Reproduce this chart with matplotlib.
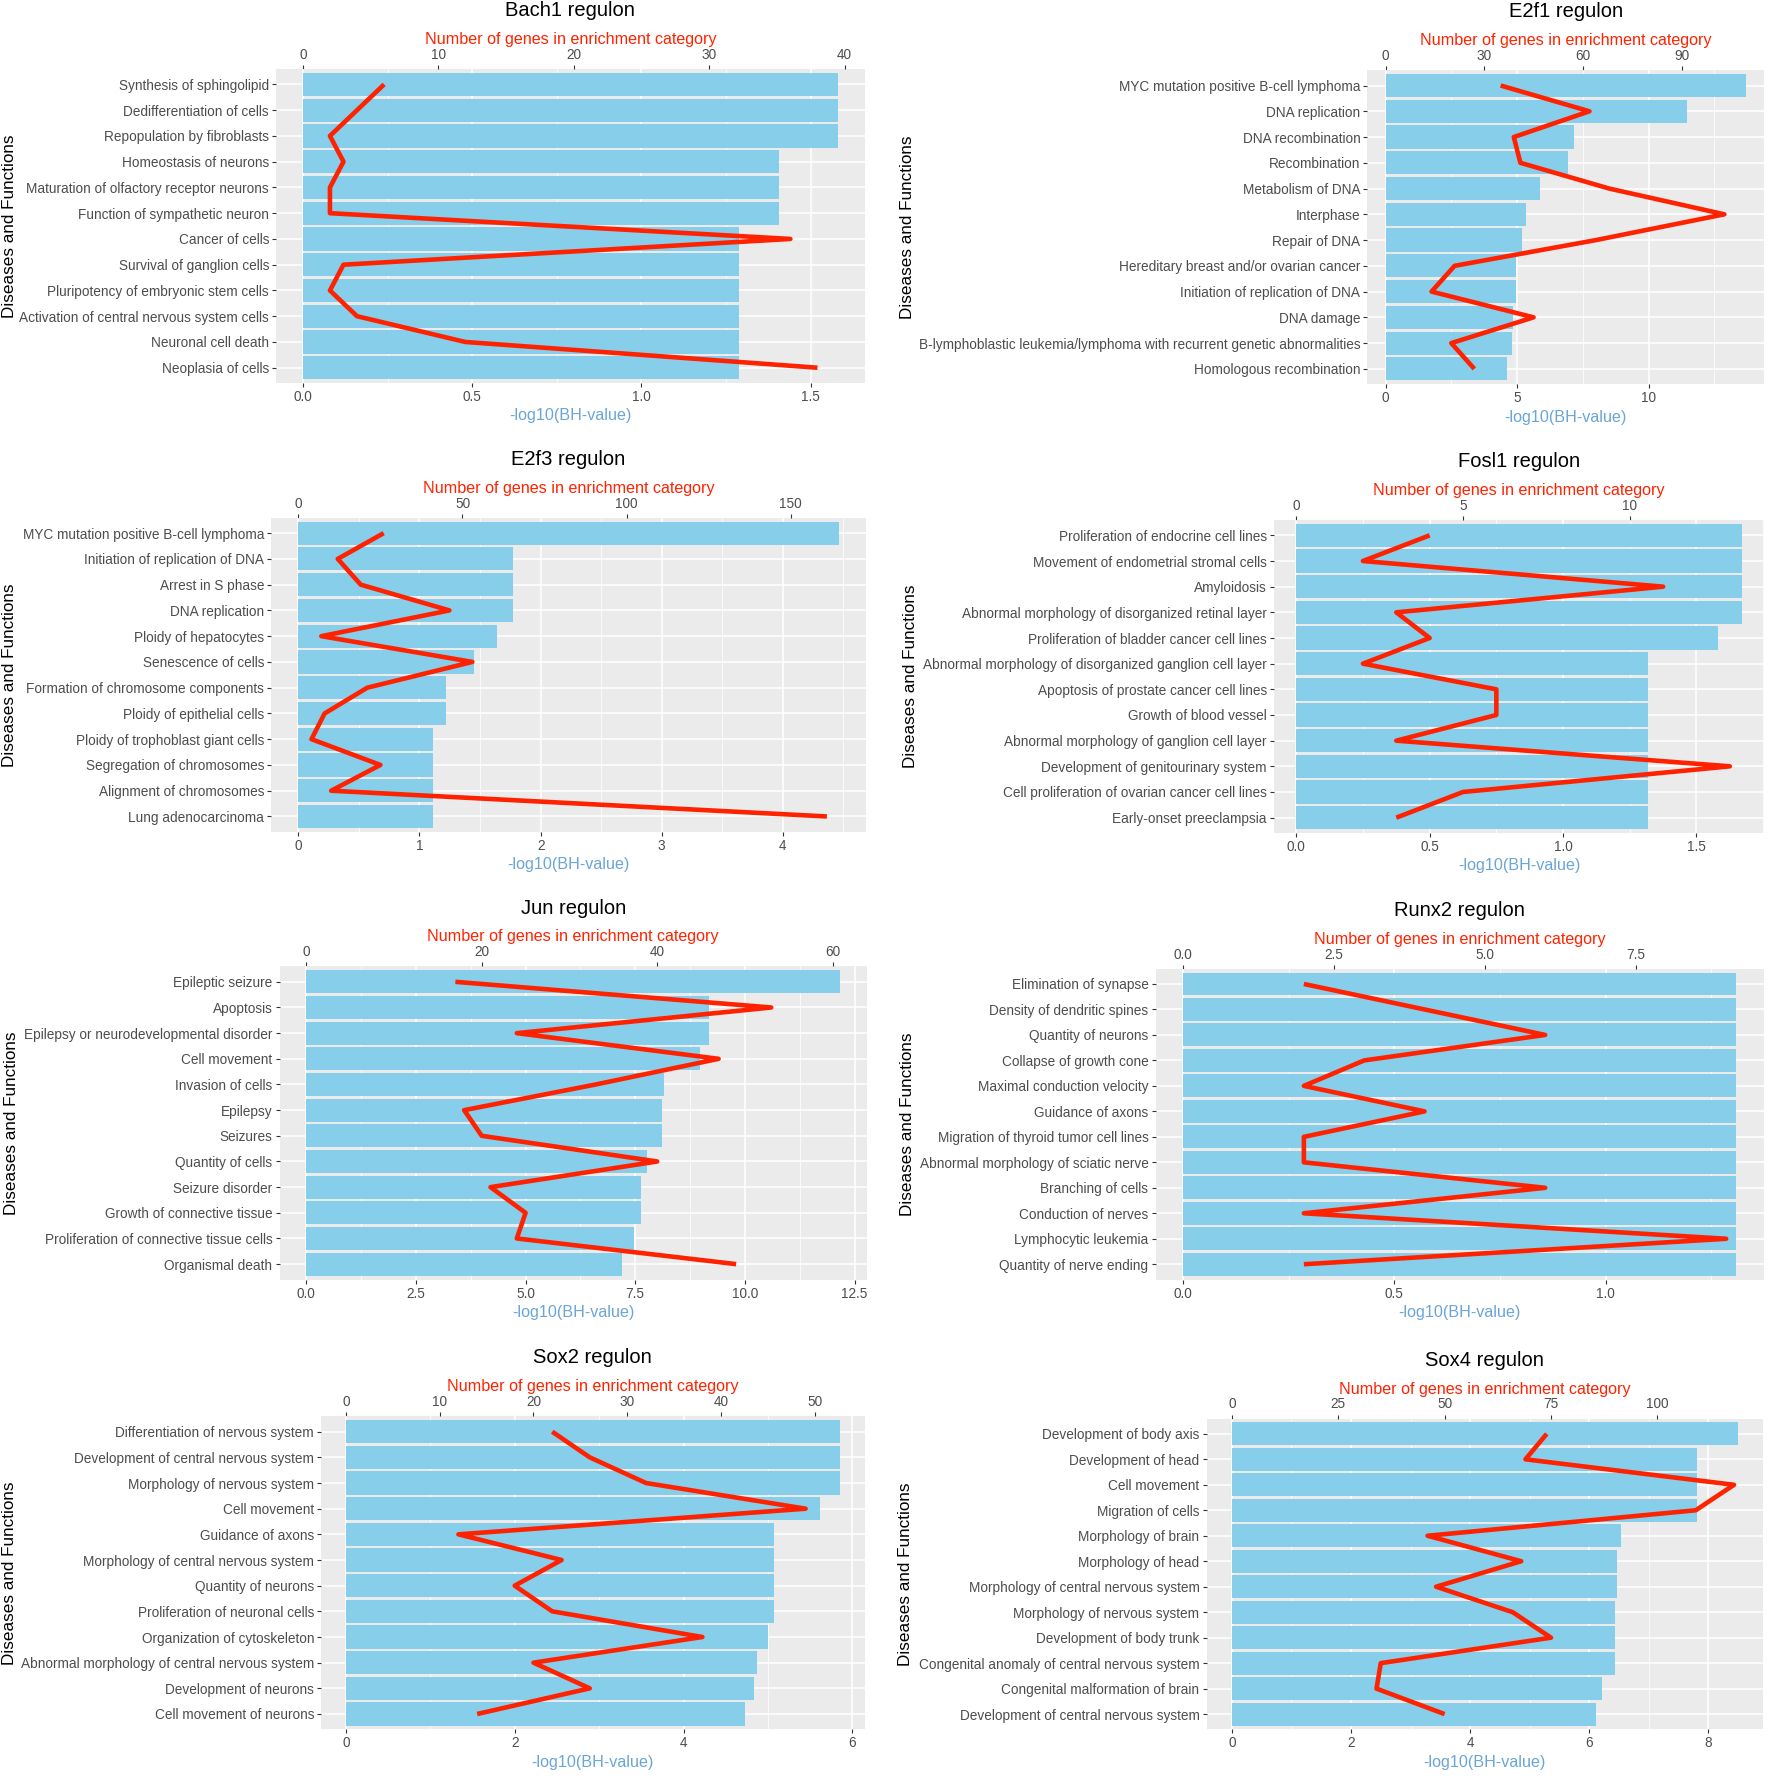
import numpy as np
import matplotlib
matplotlib.use("Agg")
import matplotlib.pyplot as plt

plt.rcParams['font.family'] = ['Liberation Sans', 'DejaVu Sans']

# ---------------- data ----------------
bach1_terms = ["Synthesis of sphingolipid", "Dedifferentiation of cells", "Repopulation by fibroblasts",
               "Homeostasis of neurons", "Maturation of olfactory receptor neurons", "Function of sympathetic neuron",
               "Cancer of cells", "Survival of ganglion cells", "Pluripotency of embryonic stem cells",
               "Activation of central nervous system cells", "Neuronal cell death", "Neoplasia of cells"]
bach1_bh = [1.58, 1.58, 1.58, 1.405, 1.405, 1.405, 1.288, 1.288, 1.288, 1.288, 1.288, 1.288]
bach1_genes = [6, 4, 2, 3, 2, 2, 36, 3, 2, 4, 12, 38]
bach1_scale = 25
bach1_bticks = [0.0, 0.5, 1.0, 1.5]
bach1_blabels = ["0.0", "0.5", "1.0", "1.5"]
bach1_tticks = [0, 10, 20, 30, 40]
bach1_tlabels = ["0", "10", "20", "30", "40"]

e2f1_terms = ["MYC mutation positive B-cell lymphoma", "DNA replication", "DNA recombination", "Recombination",
              "Metabolism of DNA", "Interphase", "Repair of DNA", "Hereditary breast and/or ovarian cancer",
              "Initiation of replication of DNA", "DNA damage",
              "B-lymphoblastic leukemia/lymphoma with recurrent genetic abnormalities", "Homologous recombination"]
e2f1_bh = [13.7, 11.45, 7.15, 6.92, 5.88, 5.32, 5.19, 4.94, 4.94, 4.83, 4.82, 4.6]
e2f1_genes = [35, 62, 39, 41, 68, 103, 64, 21, 14, 45, 20, 27]
e2f1_scale = 8
e2f1_bticks = [0, 5, 10]
e2f1_blabels = ["0", "5", "10"]
e2f1_tticks = [0, 30, 60, 90]
e2f1_tlabels = ["0", "30", "60", "90"]

e2f3_terms = ["MYC mutation positive B-cell lymphoma", "Initiation of replication of DNA", "Arrest in S phase",
              "DNA replication", "Ploidy of hepatocytes", "Senescence of cells", "Formation of chromosome components",
              "Ploidy of epithelial cells", "Ploidy of trophoblast giant cells", "Segregation of chromosomes",
              "Alignment of chromosomes", "Lung adenocarcinoma"]
e2f3_bh = [4.46, 1.776, 1.776, 1.776, 1.64, 1.448, 1.216, 1.216, 1.111, 1.111, 1.111, 1.111]
e2f3_genes = [26, 12, 19, 46, 7, 53, 21, 8, 4, 25, 10, 161]
e2f3_scale = 36.9
e2f3_bticks = [0, 1, 2, 3, 4]
e2f3_blabels = ["0", "1", "2", "3", "4"]
e2f3_tticks = [0, 50, 100, 150]
e2f3_tlabels = ["0", "50", "100", "150"]

fosl1_terms = ["Proliferation of endocrine cell lines", "Movement of endometrial stromal cells", "Amyloidosis",
               "Abnormal morphology of disorganized retinal layer", "Proliferation of bladder cancer cell lines",
               "Abnormal morphology of disorganized ganglion cell layer", "Apoptosis of prostate cancer cell lines",
               "Growth of blood vessel", "Abnormal morphology of ganglion cell layer",
               "Development of genitourinary system", "Cell proliferation of ovarian cancer cell lines",
               "Early-onset preeclampsia"]
fosl1_bh = [1.67, 1.67, 1.67, 1.67, 1.58, 1.318, 1.318, 1.318, 1.318, 1.318, 1.318, 1.318]
fosl1_genes = [4, 2, 11, 3, 4, 2, 6, 6, 3, 13, 5, 3]
fosl1_scale = 8
fosl1_bticks = [0.0, 0.5, 1.0, 1.5]
fosl1_blabels = ["0.0", "0.5", "1.0", "1.5"]
fosl1_tticks = [0, 5, 10]
fosl1_tlabels = ["0", "5", "10"]

jun_terms = ["Epileptic seizure", "Apoptosis", "Epilepsy or neurodevelopmental disorder", "Cell movement",
             "Invasion of cells", "Epilepsy", "Seizures", "Quantity of cells", "Seizure disorder",
             "Growth of connective tissue", "Proliferation of connective tissue cells", "Organismal death"]
jun_bh = [12.17, 9.19, 9.19, 8.98, 8.16, 8.12, 8.12, 7.77, 7.62, 7.62, 7.47, 7.19]
jun_genes = [17, 53, 24, 47, 33, 18, 20, 40, 21, 25, 24, 49]
jun_scale = 5
jun_bticks = [0.0, 2.5, 5.0, 7.5, 10.0, 12.5]
jun_blabels = ["0.0", "2.5", "5.0", "7.5", "10.0", "12.5"]
jun_tticks = [0, 20, 40, 60]
jun_tlabels = ["0", "20", "40", "60"]

runx2_terms = ["Elimination of synapse", "Density of dendritic spines", "Quantity of neurons",
               "Collapse of growth cone", "Maximal conduction velocity", "Guidance of axons",
               "Migration of thyroid tumor cell lines", "Abnormal morphology of sciatic nerve", "Branching of cells",
               "Conduction of nerves", "Lymphocytic leukemia", "Quantity of nerve ending"]
runx2_bh = [1.31, 1.31, 1.31, 1.31, 1.31, 1.31, 1.31, 1.31, 1.31, 1.31, 1.31, 1.31]
runx2_genes = [2, 4, 6, 3, 2, 4, 2, 2, 6, 2, 9, 2]
runx2_scale = 7
runx2_bticks = [0.0, 0.5, 1.0]
runx2_blabels = ["0.0", "0.5", "1.0"]
runx2_tticks = [0.0, 2.5, 5.0, 7.5]
runx2_tlabels = ["0.0", "2.5", "5.0", "7.5"]

sox2_terms = ["Differentiation of nervous system", "Development of central nervous system",
              "Morphology of nervous system", "Cell movement", "Guidance of axons",
              "Morphology of central nervous system", "Quantity of neurons", "Proliferation of neuronal cells",
              "Organization of cytoskeleton", "Abnormal morphology of central nervous system",
              "Development of neurons", "Cell movement of neurons"]
sox2_bh = [5.85, 5.85, 5.85, 5.61, 5.07, 5.07, 5.07, 5.07, 5.0, 4.87, 4.83, 4.73]
sox2_genes = [22, 26, 32, 49, 12, 23, 18, 22, 38, 20, 26, 14]
sox2_scale = 9
sox2_bticks = [0, 2, 4, 6]
sox2_blabels = ["0", "2", "4", "6"]
sox2_tticks = [0, 10, 20, 30, 40, 50]
sox2_tlabels = ["0", "10", "20", "30", "40", "50"]

sox4_terms = ["Development of body axis", "Development of head", "Cell movement", "Migration of cells",
              "Morphology of brain", "Morphology of head", "Morphology of central nervous system",
              "Morphology of nervous system", "Development of body trunk",
              "Congenital anomaly of central nervous system", "Congenital malformation of brain",
              "Development of central nervous system"]
sox4_bh = [8.49, 7.80, 7.80, 7.80, 6.53, 6.47, 6.47, 6.43, 6.43, 6.43, 6.22, 6.12]
sox4_genes = [74, 69, 118, 109, 46, 68, 48, 66, 75, 35, 34, 50]
sox4_scale = 14
sox4_bticks = [0, 2, 4, 6, 8]
sox4_blabels = ["0", "2", "4", "6", "8"]
sox4_tticks = [0, 25, 50, 75, 100]
sox4_tlabels = ["0", "25", "50", "75", "100"]

titles = ["Bach1 regulon", "E2f1 regulon", "E2f3 regulon", "Fosl1 regulon",
          "Jun regulon", "Runx2 regulon", "Sox2 regulon", "Sox4 regulon"]
top_title = "Number of genes in enrichment category"
bottom_title = "-log10(BH-value)"
y_title = "Diseases and Functions"

panels = [
    (bach1_terms, bach1_bh, bach1_genes, bach1_scale, bach1_bticks, bach1_blabels, bach1_tticks, bach1_tlabels),
    (e2f1_terms, e2f1_bh, e2f1_genes, e2f1_scale, e2f1_bticks, e2f1_blabels, e2f1_tticks, e2f1_tlabels),
    (e2f3_terms, e2f3_bh, e2f3_genes, e2f3_scale, e2f3_bticks, e2f3_blabels, e2f3_tticks, e2f3_tlabels),
    (fosl1_terms, fosl1_bh, fosl1_genes, fosl1_scale, fosl1_bticks, fosl1_blabels, fosl1_tticks, fosl1_tlabels),
    (jun_terms, jun_bh, jun_genes, jun_scale, jun_bticks, jun_blabels, jun_tticks, jun_tlabels),
    (runx2_terms, runx2_bh, runx2_genes, runx2_scale, runx2_bticks, runx2_blabels, runx2_tticks, runx2_tlabels),
    (sox2_terms, sox2_bh, sox2_genes, sox2_scale, sox2_bticks, sox2_blabels, sox2_tticks, sox2_tlabels),
    (sox4_terms, sox4_bh, sox4_genes, sox4_scale, sox4_bticks, sox4_blabels, sox4_tticks, sox4_tlabels),
]

# ---------------- layout (reference units: 1568 x 1573) ----------------
REF_W, REF_H = 1568.0, 1573.0
# zero_x, right_x, top_y, bottom_y, ylabel_x
layout = [
    (268, 765, 61, 339, 8),
    (1226, 1561, 62, 340, 803),
    (264, 766, 458, 736, 8),
    (1147, 1561, 460, 737, 806),
    (271, 767, 855, 1132, 10),
    (1047, 1561, 857, 1132, 803),
    (306, 765, 1253, 1530, 8),
    (1090, 1560, 1255, 1530, 801),
]

BAR = '#87CEEB'
RED = '#FF2200'
BG = '#EBEBEB'
BLUE = '#6AA5D6'
TICKC = '#333333'
LABC = '#4D4D4D'

fig = plt.figure(figsize=(17.72, 17.78), dpi=100)

for (terms, bh, genes, scale, bt, bl, tt, tl), (zx, rx, ty, by, ylx), title in zip(panels, layout, titles):
    bh = np.asarray(bh, float)
    genes = np.asarray(genes, float)
    n = len(terms)
    xmax = max(bh.max(), genes.max() / scale)
    width_px = (rx - zx) * 1.1 / 1.05
    lx = rx - width_px
    ax = fig.add_axes([lx / REF_W, 1 - by / REF_H, width_px / REF_W, (by - ty) / REF_H])
    ax.set_facecolor(BG)
    y = np.arange(n)
    ax.barh(y, bh, height=0.9, color=BAR, zorder=2)
    ax.plot(genes / scale, y, color=RED, lw=3.3, zorder=3,
            solid_joinstyle='round', solid_capstyle='butt')
    ax.set_xlim(-0.05 * xmax, 1.05 * xmax)
    ax.set_ylim(n - 0.4, -0.6)
    ax.set_yticks(y, terms)
    ax.set_xticks(bt, bl)
    step = bt[1] - bt[0]
    minors = [b + step / 2 for b in [bt[0] - step] + list(bt)]
    minors = [m for m in minors if -0.05 * xmax < m < 1.05 * xmax]
    ax.set_xticks(minors, minor=True)
    ax.set_axisbelow(True)
    ax.grid(which='major', color='white', lw=1.1)
    ax.grid(which='minor', axis='x', color='white', lw=0.55)
    for s in ax.spines.values():
        s.set_visible(False)
    ax.tick_params(which='major', length=2.9, width=0.8, color=TICKC, labelcolor=LABC,
                   labelsize=9.8, pad=2.2)
    ax.tick_params(which='minor', length=0)

    sec = ax.secondary_xaxis('top', functions=(lambda x, s=scale: x * s, lambda x, s=scale: x / s))
    sec.set_xticks(tt, tl)
    sec.spines['top'].set_visible(False)
    sec.tick_params(length=2.9, width=0.8, color=TICKC, labelcolor=LABC, labelsize=9.8, pad=2.2)

    ph = by - ty
    ax.annotate(title, xy=(0.5, 1), xycoords='axes fraction', xytext=(0, 42.0),
                textcoords='offset points', ha='center', va='center', fontsize=14.5, color='black')
    ax.annotate(top_title, xy=(0.5, 1), xycoords='axes fraction', xytext=(0, 21.2),
                textcoords='offset points', ha='center', va='center', fontsize=11.6, color=RED)
    ax.set_xlabel(bottom_title, color=BLUE, fontsize=11.6)
    ax.xaxis.set_label_coords(0.5, -29.0 / ph)
    ax.xaxis.label.set_va('center')
    ax.set_ylabel(y_title, fontsize=12.3, color='black')
    ax.yaxis.set_label_coords((ylx - lx) / width_px, 0.5)
    ax.yaxis.label.set_va('center')

fig.savefig("out.png", dpi=100, facecolor='white')
